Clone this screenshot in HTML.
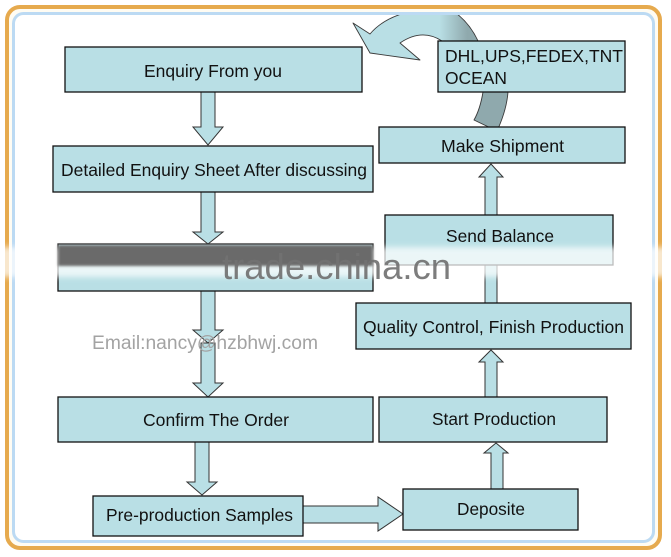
<!DOCTYPE html>
<html>
<head>
<meta charset="utf-8">
<style>
html,body{margin:0;padding:0;background:#fff;}
svg{display:block;}
text{font-family:"Liberation Sans",Arial,sans-serif;}
</style>
</head>
<body>
<svg width="671" height="557" viewBox="0 0 671 557" xmlns="http://www.w3.org/2000/svg">
<defs>
  <clipPath id="inner"><rect x="15" y="15" width="637" height="525" rx="9"/></clipPath>
  <linearGradient id="ag" gradientUnits="userSpaceOnUse" x1="353" y1="0" x2="480" y2="0">
    <stop offset="0.68" stop-color="#b9dfe5"/>
    <stop offset="0.9" stop-color="#8fa9ad"/>
  </linearGradient>
  <filter id="blur" x="-5%" y="-50%" width="110%" height="200%"><feGaussianBlur stdDeviation="3"/></filter>
  <filter id="blur1" x="-5%" y="-30%" width="110%" height="160%"><feGaussianBlur stdDeviation="1.2"/></filter>
</defs>

<rect width="671" height="557" fill="#fff"/>
<!-- frame -->
<rect x="7" y="7" width="653" height="541" rx="13" fill="#fffcf3" stroke="#e6aa4e" stroke-width="4"/>
<rect x="13.5" y="13.5" width="640" height="528" rx="10" fill="#fff" stroke="#bcdaf3" stroke-width="3"/>

<!-- curved arrow -->
<g clip-path="url(#inner)" stroke="#3a3a3a" stroke-width="0.9" stroke-linejoin="round">
  <path d="M353,23 L370,34 C385,16 415,6 450,9 C463,17 472,28 478,41 L442,41 Q422,28 400,43 L420,60 L370,53 Z" fill="url(#ag)"/>
  <path d="M483,92 C481,104 478,113 474,120 L497,131 C503,118 507,105 508,92 Z" fill="#8fa9ad"/>
</g>

<!-- arrows -->
<g fill="#b9dfe5" stroke="#333" stroke-width="1" stroke-linejoin="miter">
  <polygon points="201,92 215,92 215,127 223,127 208,145 193,127 201,127"/>
  <polygon points="201,192 215,192 215,232 223,232 208,244 193,232 201,232"/>
  <polygon points="201,291 215,291 215,330 223,330 208,343 193,330 201,330"/>
  <polygon points="201,343 215,343 215,383 223,383 208,397 193,383 201,383"/>
  <polygon points="195,442 209,442 209,482 217,482 202,495 187,482 195,482"/>
  <polygon points="491,489 503,489 503,453 508,453 496,443 484,453 491,453"/>
  <polygon points="485,397 497,397 497,362 503,362 491,350 479,362 485,362"/>
  <rect x="485" y="265" width="12" height="38"/>
  <polygon points="485,215 497,215 497,177 503,177 491,164 479,177 485,177"/>
  <polygon points="303,506 378,506 378,497 403,514 378,531 378,523 303,523"/>
</g>

<!-- boxes -->
<g fill="#b9dfe5" stroke="#111" stroke-width="1.3">
  <rect x="65" y="47" width="297" height="45"/>
  <rect x="53" y="146" width="320" height="46"/>
  <rect x="58" y="244" width="315" height="47"/>
  <rect x="58" y="397" width="315" height="45"/>
  <rect x="93" y="496" width="210" height="40"/>
  <rect x="403" y="489" width="175" height="41"/>
  <rect x="379" y="397" width="228" height="45"/>
  <rect x="356" y="303" width="275" height="46"/>
  <rect x="385" y="215" width="228" height="50"/>
  <rect x="379" y="127" width="246" height="36"/>
  <rect x="438" y="41" width="187" height="51"/>
</g>

<!-- labels -->
<g fill="#111" font-size="17.5">
  <text x="144" y="77" textLength="138" lengthAdjust="spacingAndGlyphs">Enquiry From you</text>
  <text x="61" y="176" textLength="306" lengthAdjust="spacingAndGlyphs">Detailed Enquiry Sheet After discussing</text>
  <text x="445" y="62" textLength="178" lengthAdjust="spacingAndGlyphs">DHL,UPS,FEDEX,TNT</text>
  <text x="445" y="84" textLength="62" lengthAdjust="spacingAndGlyphs">OCEAN</text>
  <text x="441" y="152" textLength="123" lengthAdjust="spacingAndGlyphs">Make Shipment</text>
  <text x="446" y="242" textLength="108" lengthAdjust="spacingAndGlyphs">Send Balance</text>
  <text x="363" y="333" textLength="261" lengthAdjust="spacingAndGlyphs">Quality Control, Finish Production</text>
  <text x="432" y="425" textLength="124" lengthAdjust="spacingAndGlyphs">Start Production</text>
  <text x="143" y="426" textLength="146" lengthAdjust="spacingAndGlyphs">Confirm The Order</text>
  <text x="106" y="521" textLength="187" lengthAdjust="spacingAndGlyphs">Pre-production Samples</text>
  <text x="457" y="515" textLength="68" lengthAdjust="spacingAndGlyphs">Deposite</text>
</g>

<!-- watermark band -->
<rect x="-10" y="247" width="691" height="30" fill="#fff" opacity="0.72" filter="url(#blur)"/>
<rect x="58" y="245" width="315" height="21" fill="#6b6b6b" filter="url(#blur1)"/>
<text x="222" y="279" font-size="36" fill="#727272" opacity="0.92" textLength="229" lengthAdjust="spacingAndGlyphs">trade.china.cn</text>
<text x="92" y="349" font-size="19" fill="#a3a3a3" textLength="226" lengthAdjust="spacingAndGlyphs">Email:nancy@hzbhwj.com</text>
</svg>
</body>
</html>
